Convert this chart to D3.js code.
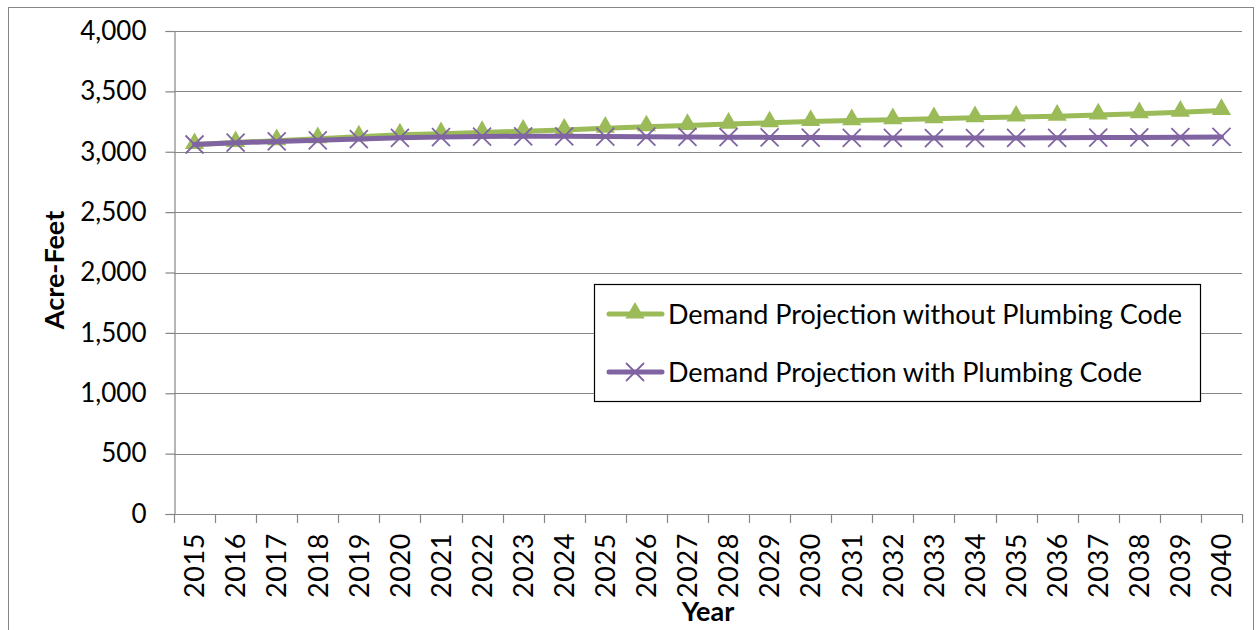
<!DOCTYPE html>
<html><head><meta charset="utf-8">
<script src="https://cdn.jsdelivr.net/npm/d3@7"></script>
<style>body{margin:0;background:#fff}svg{display:block}text{font-family:Lato,"Open Sans",sans-serif;fill:#000;font-variant-numeric:tabular-nums}</style>
</head><body><svg id="c" width="1259" height="630"></svg>
<script>
const years = ["2015","2016","2017","2018","2019","2020","2021","2022","2023","2024","2025","2026","2027","2028","2029","2030","2031","2032","2033","2034","2035","2036","2037","2038","2039","2040"];
const withoutCode = [3060,3076,3092,3108,3124,3140,3150,3160,3170,3180,3195,3207,3218,3229,3240,3250,3258,3266,3274,3282,3288,3295,3305,3315,3328,3342];
const withCode = [3060,3075,3085,3095,3105,3115,3122,3126,3128,3128,3126,3125,3123,3121,3119,3117,3115,3114,3113,3113,3114,3115,3117,3119,3121,3123];
const yTicks = [0,500,1000,1500,2000,2500,3000,3500,4000];
const seriesNames = ["Demand Projection without Plumbing Code","Demand Projection with Plumbing Code"];

const svg = d3.select("#c");
const L=174,R=1242,T=31,B=514;
const grid="#868686";
svg.append("rect").attr("x",8.5).attr("y",7.5).attr("width",1245).attr("height",640).attr("fill","none").attr("stroke",grid).attr("stroke-width",1);

const x = d3.scaleBand().domain(years).range([L,R]);
const y = d3.scaleLinear().domain([0,4000]).range([B,T]);

// gridlines
svg.append("g").selectAll("line").data(yTicks.filter(d=>d>0)).join("line")
  .attr("x1",L).attr("x2",R).attr("y1",d=>Math.round(y(d))+0.5).attr("y2",d=>Math.round(y(d))+0.5)
  .attr("stroke",grid).attr("stroke-width",1.2);

// y axis
const ya = svg.append("g").attr("transform",`translate(${L+0.5},0)`)
  .call(d3.axisLeft(y).tickValues(yTicks).tickSize(9).tickPadding(19).tickFormat(d3.format(",")));
ya.select(".domain").attr("stroke",grid).attr("stroke-width",1.2);
ya.selectAll(".tick line").attr("stroke",grid).attr("stroke-width",1.2);
ya.selectAll(".tick text").attr("font-size",26).attr("font-family","Lato").attr("fill","#000");

// x axis baseline and ticks at boundaries
svg.append("line").attr("x1",L).attr("x2",R).attr("y1",B+0.5).attr("y2",B+0.5).attr("stroke",grid).attr("stroke-width",1.2);
const bounds = years.map(d=>x(d)).concat([R]);
svg.append("g").selectAll("line").data(bounds).join("line")
  .attr("x1",d=>Math.round(d)+0.5).attr("x2",d=>Math.round(d)+0.5).attr("y1",B).attr("y2",B+9)
  .attr("stroke",grid).attr("stroke-width",1.2);
svg.append("g").selectAll("text").data(years).join("text")
  .attr("transform",d=>`translate(${x(d)+x.bandwidth()/2},533) rotate(-90)`)
  .attr("text-anchor","end").attr("dy","0.36em").attr("font-size",27).attr("letter-spacing","0.6px").text(d=>d);

// axis titles
svg.append("text").attr("transform","translate(54,270) rotate(-90)").attr("text-anchor","middle")
  .attr("dy","0.36em").attr("font-size",27).attr("font-weight","bold").text("Acre-Feet");
svg.append("text").attr("x",(L+R)/2).attr("y",621).attr("text-anchor","middle")
  .attr("font-size",27).attr("font-weight","bold").text("Year");

const cx = d=>x(d)+x.bandwidth()/2;
const line = d3.line().x((d,i)=>cx(years[i])).y(d=>y(d));
const green="#9BBB59", purple="#8064A2";
const tri = d3.symbol().type(d3.symbolTriangle).size(160);

function drawTri(g,px,py){g.append("path").attr("d",tri()).attr("transform",`translate(${px},${py-1})`).attr("fill",green);}
function drawX(g,px,py){const s=9;g.append("path").attr("d",`M${px-s},${py-s}L${px+s},${py+s}M${px-s},${py+s}L${px+s},${py-s}`).attr("stroke",purple).attr("stroke-width",1.8).attr("fill","none");}

const g1=svg.append("g");
g1.append("path").datum(withoutCode).attr("d",line).attr("fill","none").attr("stroke",green).attr("stroke-width",5).attr("stroke-linejoin","round").attr("stroke-linecap","round");
withoutCode.forEach((v,i)=>drawTri(g1,cx(years[i]),y(v)));
const g2=svg.append("g");
g2.append("path").datum(withCode).attr("d",line).attr("fill","none").attr("stroke",purple).attr("stroke-width",5).attr("stroke-linejoin","round").attr("stroke-linecap","round");
withCode.forEach((v,i)=>drawX(g2,cx(years[i]),y(v)));

// legend
const lg=svg.append("g");
lg.append("rect").attr("x",594.5).attr("y",284.5).attr("width",606).attr("height",117).attr("fill","#fff").attr("stroke","#000").attr("stroke-width",1.2);
const rows=[{n:seriesNames[0],c:green,y:314,m:"t"},{n:seriesNames[1],c:purple,y:372,m:"x"}];
rows.forEach(r=>{
  lg.append("line").attr("x1",609).attr("x2",662).attr("y1",r.y).attr("y2",r.y).attr("stroke",r.c).attr("stroke-width",5).attr("stroke-linecap","round");
  if(r.m==="t") drawTri(lg,635,r.y); else drawX(lg,635,r.y);
  lg.append("text").attr("x",668).attr("y",r.y).attr("dy","0.36em").attr("font-size",27).text(r.n);
});
</script></body></html>
